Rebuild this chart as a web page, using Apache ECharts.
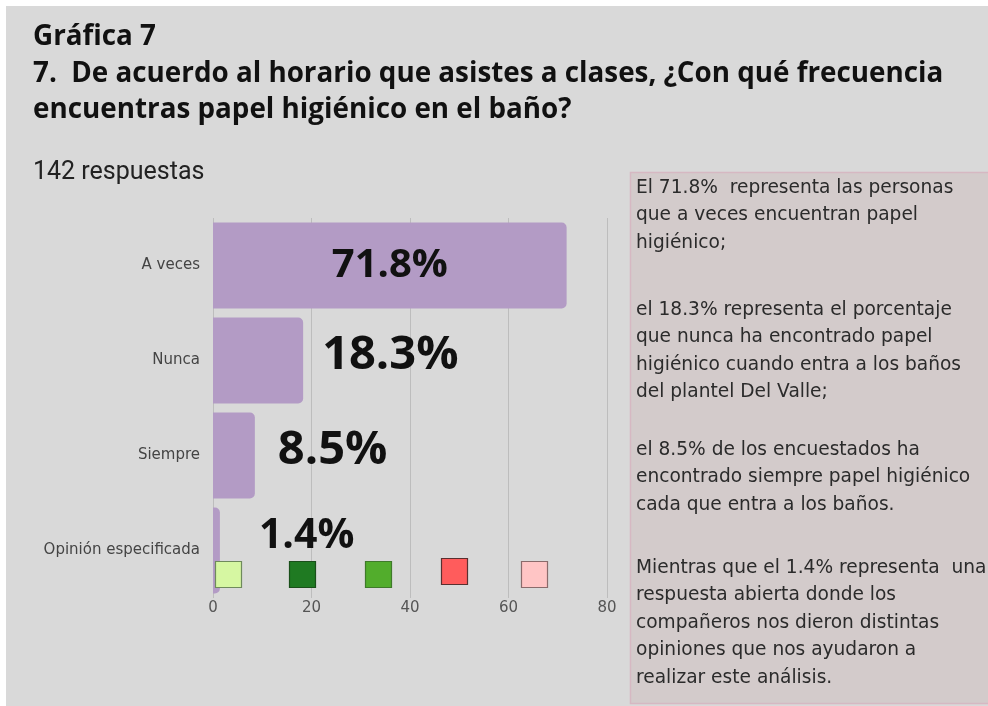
<!DOCTYPE html>
<html>
<head>
<meta charset="utf-8">
<script src="https://cdn.jsdelivr.net/npm/echarts@6/dist/echarts.min.js"></script>
<style>
  body { margin: 0; background: #ffffff; }
  #bg { position: absolute; left: 6px; top: 6px; width: 982px; height: 700px; background: #d9d9d9; }
  #main { position: absolute; left: 0; top: 0; width: 988px; height: 706px; }
</style>
</head>
<body>
<div id="bg"></div>
<div id="main"></div>
<script>
// categorias y porcentajes de la grafica
var categorias = ['A veces', 'Nunca', 'Siempre', 'Opinión especificada']
var porcentajes = [71.8, 18.3, 8.5, 1.4]
var ticksX = [0, 20, 40, 60, 80]
// cuadros de colores debajo de las barras
var coloresCuadros = ['#d6f7a2', '#1f7a22', '#52ad2c', '#ff5c5c', '#ffc5c5']
var bordesCuadros = ['#6f8a5c', '#1a4f1a', '#3f7a2a', '#5a3030', '#8a6b6b']

var parrafos = [
  'El 71.8%  representa las personas\nque a veces encuentran papel\nhigiénico;',
  'el 18.3% representa el porcentaje\nque nunca ha encontrado papel\nhigiénico cuando entra a los baños\ndel plantel Del Valle;',
  'el 8.5% de los encuestados ha\nencontrado siempre papel higiénico\ncada que entra a los baños.',
  'Mientras que el 1.4% representa  una\nrespuesta abierta donde los\ncompañeros nos dieron distintas\nopiniones que nos ayudaron a\nrealizar este análisis.'
]

// posicion y tamaño de cada etiqueta grande
var etiquetas = [
  { position: 'inside', offset: [0, 0], fontSize: 40 },
  { position: 'right', distance: 19, offset: [0, -5], fontSize: 47 },
  { position: 'right', distance: 23, offset: [0, -5], fontSize: 47 },
  { position: 'right', distance: 39, offset: [0, -14], fontSize: 41 }
]

var datos = porcentajes.map(function (v, i) {
  return { value: v, label: etiquetas[i] }
})

var graficos = []
var topParrafos = [174, 296, 436, 554]
graficos.push({
  type: 'rect',
  shape: { x: 630.5, y: 172.5, width: 380, height: 531 },
  style: { fill: '#d3cbcb', stroke: '#d6b8c2', lineWidth: 1.5 },
  z: -1
})
parrafos.forEach(function (p, i) {
  graficos.push({
    type: 'text',
    x: 636,
    y: topParrafos[i],
    style: {
      text: p,
      fill: '#2b2b2b',
      font: '18.6px "DejaVu Sans"',
      lineHeight: 27.5,
      verticalAlign: 'top'
    }
  })
})
var xCuadros = [215, 289, 365, 441, 521]
var yCuadros = [561, 561, 561, 558, 561]
coloresCuadros.forEach(function (c, i) {
  graficos.push({
    type: 'rect',
    shape: { x: xCuadros[i] + 0.5, y: yCuadros[i] + 0.5, width: 26, height: 26 },
    style: { fill: c, stroke: bordesCuadros[i], lineWidth: 1.2 },
    z: 10
  })
})

var myChart = echarts.init(document.getElementById('main'))
var option = {
  backgroundColor: 'transparent',
  title: [
    {
      text: 'Gráfica 7\n7.  De acuerdo al horario que asistes a clases, ¿Con qué frecuencia\nencuentras papel higiénico en el baño?',
      left: 33,
      top: 19,
      padding: 0,
      textStyle: {
        fontFamily: 'Open Sans',
        fontWeight: 'bold',
        fontSize: 27.8,
        lineHeight: 36.5,
        color: '#111111'
      }
    },
    {
      text: '142 respuestas',
      left: 33,
      top: 160,
      padding: 0,
      textStyle: {
        fontFamily: 'Roboto',
        fontWeight: 'normal',
        fontSize: 25,
        color: '#222222'
      }
    }
  ],
  grid: {
    left: 213,
    right: 381,
    top: 218,
    bottom: 108
  },
  xAxis: {
    type: 'value',
    min: ticksX[0],
    max: ticksX[ticksX.length - 1],
    interval: 20,
    axisLine: { show: false },
    axisTick: { show: false },
    splitLine: { lineStyle: { color: '#bdbdbd', width: 1 } },
    axisLabel: {
      color: '#555555',
      fontFamily: 'DejaVu Sans',
      fontSize: 15,
      margin: 3
    }
  },
  yAxis: {
    type: 'category',
    inverse: true,
    data: categorias,
    axisLine: { show: false },
    axisTick: { show: false },
    axisLabel: {
      color: '#444444',
      fontFamily: 'DejaVu Sans',
      fontSize: 15,
      margin: 13
    }
  },
  graphic: graficos,
  series: [
    {
      type: 'bar',
      data: datos,
      barWidth: 86,
      itemStyle: {
        color: '#b39bc5',
        borderRadius: [0, 5, 5, 0]
      },
      label: {
        show: true,
        formatter: function (p) { return p.value + '%' },
        color: '#111111',
        fontFamily: 'Open Sans',
        fontWeight: 'bold'
      }
    }
  ]
}
myChart.setOption(option)
</script>
</body>
</html>
